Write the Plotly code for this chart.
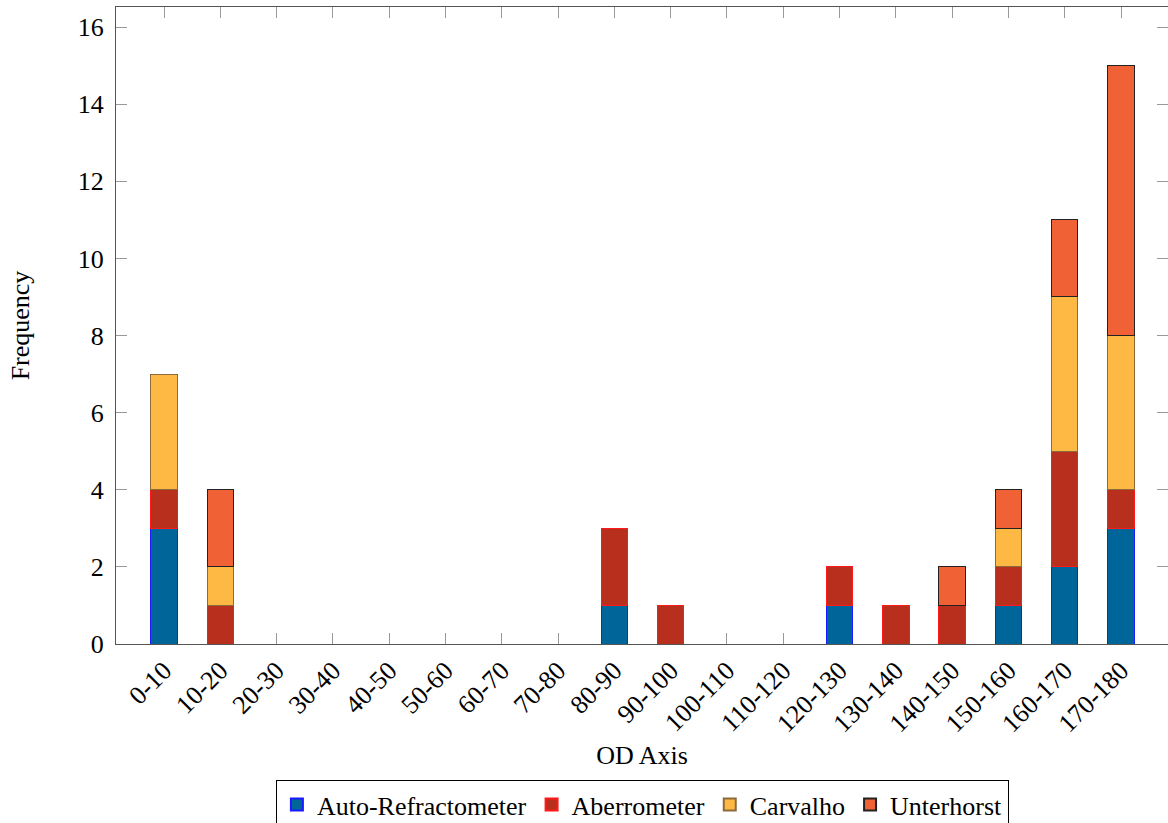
import plotly.graph_objects as go

# OD axis bins (degrees)
categories = ["0-10", "10-20", "20-30", "30-40", "40-50", "50-60", "60-70", "70-80",
              "80-90", "90-100", "100-110", "110-120", "120-130", "130-140", "140-150",
              "150-160", "160-170", "170-180"]

auto_refractometer = [3, 0, 0, 0, 0, 0, 0, 0, 1, 0, 0, 0, 1, 0, 0, 1, 2, 3]
aberrometer        = [1, 1, 0, 0, 0, 0, 0, 0, 2, 1, 0, 0, 1, 1, 1, 1, 3, 1]
carvalho           = [3, 1, 0, 0, 0, 0, 0, 0, 0, 0, 0, 0, 0, 0, 0, 1, 4, 4]
unterhorst         = [0, 2, 0, 0, 0, 0, 0, 0, 0, 0, 0, 0, 0, 0, 1, 1, 2, 7]

y_ticks = [0, 2, 4, 6, 8, 10, 12, 14, 16]

FONT = 'Liberation Serif, "Times New Roman", Times, serif'
FS = 26

# (name, values, fill, edge, hide zero-height segments)
series = [
    ("Auto-Refractometer", auto_refractometer, "#006699", "#1a1aff", False),
    ("Aberrometer", aberrometer, "#b82f1e", "#ff1a1a", False),
    ("Carvalho", carvalho, "#fdb944", "#8c6a3c", True),
    ("Unterhorst", unterhorst, "#f16136", "#222222", True),
]

xs = list(range(len(categories)))

fig = go.Figure()
for name, vals, fill, edge, hide_zero in series:
    y = [None if (hide_zero and v == 0) else v for v in vals]
    fig.add_trace(go.Bar(
        x=xs, y=y, name=name, width=0.47,
        marker=dict(color=fill, line=dict(color=edge, width=1)),
    ))

fig.update_layout(
    barmode="stack",
    width=1168, height=823,
    margin=dict(l=116, r=0, t=7, b=179),
    paper_bgcolor="white", plot_bgcolor="white",
    font=dict(family=FONT, size=FS, color="black"),
    showlegend=True,
    legend=dict(
        orientation="h", x=0.550, xanchor="center",
        xref="container", yref="container", y=0.0522, yanchor="top",
        bordercolor="black", borderwidth=1, bgcolor="white",
        font=dict(family=FONT, size=FS), itemwidth=30,
        traceorder="normal", itemsizing="constant",
    ),
)

fig.update_xaxes(
    range=[-0.853, 17.835],
    tickmode="array", tickvals=xs, ticktext=categories, tickangle=-45,
    ticks="inside", ticklen=11, tickcolor="#999999", tickwidth=1,
    showline=True, linecolor="#555555", linewidth=1, mirror="ticks",
    showgrid=False, zeroline=False, layer="below traces",
    title=dict(text="OD Axis", standoff=8, font=dict(family=FONT, size=FS)),
    tickfont=dict(family=FONT, size=FS),
    automargin=False,
)
fig.update_yaxes(
    range=[0, 16.52],
    tickmode="array", tickvals=y_ticks,
    ticks="inside", ticklen=11, tickcolor="#999999", tickwidth=1,
    ticklabelstandoff=6,
    showline=True, linecolor="#555555", linewidth=1, mirror="ticks",
    showgrid=False, zeroline=False, layer="below traces",
    title=dict(text="Frequency", standoff=40, font=dict(family=FONT, size=FS)),
    tickfont=dict(family=FONT, size=FS),
    automargin=False,
)

fig.write_html("out.html")
